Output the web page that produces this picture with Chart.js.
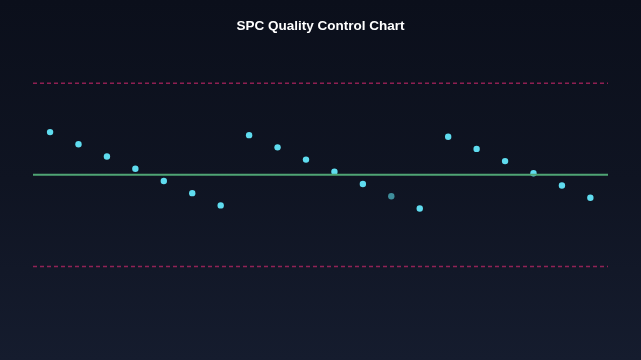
<!DOCTYPE html>
<html>
<head>
<meta charset="utf-8">
<script src="https://cdn.jsdelivr.net/npm/chart.js@4"></script>
<style>
  html,body{margin:0;padding:0;width:641px;height:360px;overflow:hidden;
    background:linear-gradient(180deg,#0b0f1b 0%,#0f1422 50%,#151c2e 100%);}
  #wrap{position:relative;width:641px;height:360px;}
</style>
</head>
<body>
<div id="wrap"><canvas id="c" width="641" height="360"></canvas></div>
<script>
const samples = [1,2,3,4,5,6,7,8,9,10,11,12,13,14,15,16,17,18,19,20];
const values = [11.4,11.0,10.6,10.2,9.8,9.4,9.0, 11.3,10.9,10.5,10.1,9.7,9.3,8.9, 11.25,10.85,10.45,10.05,9.65,9.25];
const centerLine = 10;
const upperLimit = 13;
const lowerLimit = 7;
const xRange = [0.4, 20.62];
const dimIndex = 12;

const pts = samples.map((s,i)=>({x:s,y:values[i]}));
const lineOf = v => [{x:xRange[0],y:v},{x:xRange[1],y:v}];
const pointColors = values.map((v,i)=> i===dimIndex ? '#3f8e9b' : '#5fdcef');

new Chart(document.getElementById('c'), {
  type: 'scatter',
  data: {
    datasets: [
      {label:'UCL', type:'line', data: lineOf(upperLimit), borderColor:'rgba(214,40,110,0.65)', borderWidth:1.5, borderDash:[4,3], pointRadius:0, fill:false},
      {label:'LCL', type:'line', data: lineOf(lowerLimit), borderColor:'rgba(214,40,110,0.65)', borderWidth:1.5, borderDash:[4,3], pointRadius:0, fill:false},
      {label:'CL', type:'line', data: lineOf(centerLine), borderColor:'#4fa474', borderWidth:2, pointRadius:0, fill:false},
      {label:'Samples', data: pts, backgroundColor: pointColors, borderColor: pointColors, pointRadius:3.2, borderWidth:0}
    ]
  },
  options: {
    responsive:false,
    animation:false,
    layout:{padding:{top:10,left:33,right:33,bottom:63}},
    plugins:{
      legend:{display:false},
      tooltip:{enabled:false},
      title:{display:true,text:'SPC Quality Control Chart',color:'#ffffff',
        font:{family:'Liberation Sans, Arial, sans-serif',size:13.5,weight:'bold'},
        padding:{top:8,bottom:18.5}}
    },
    scales:{
      x:{type:'linear',min:xRange[0],max:xRange[1],display:false},
      y:{type:'linear',min:6,max:14,display:false}
    }
  }
});
</script>
</body>
</html>
